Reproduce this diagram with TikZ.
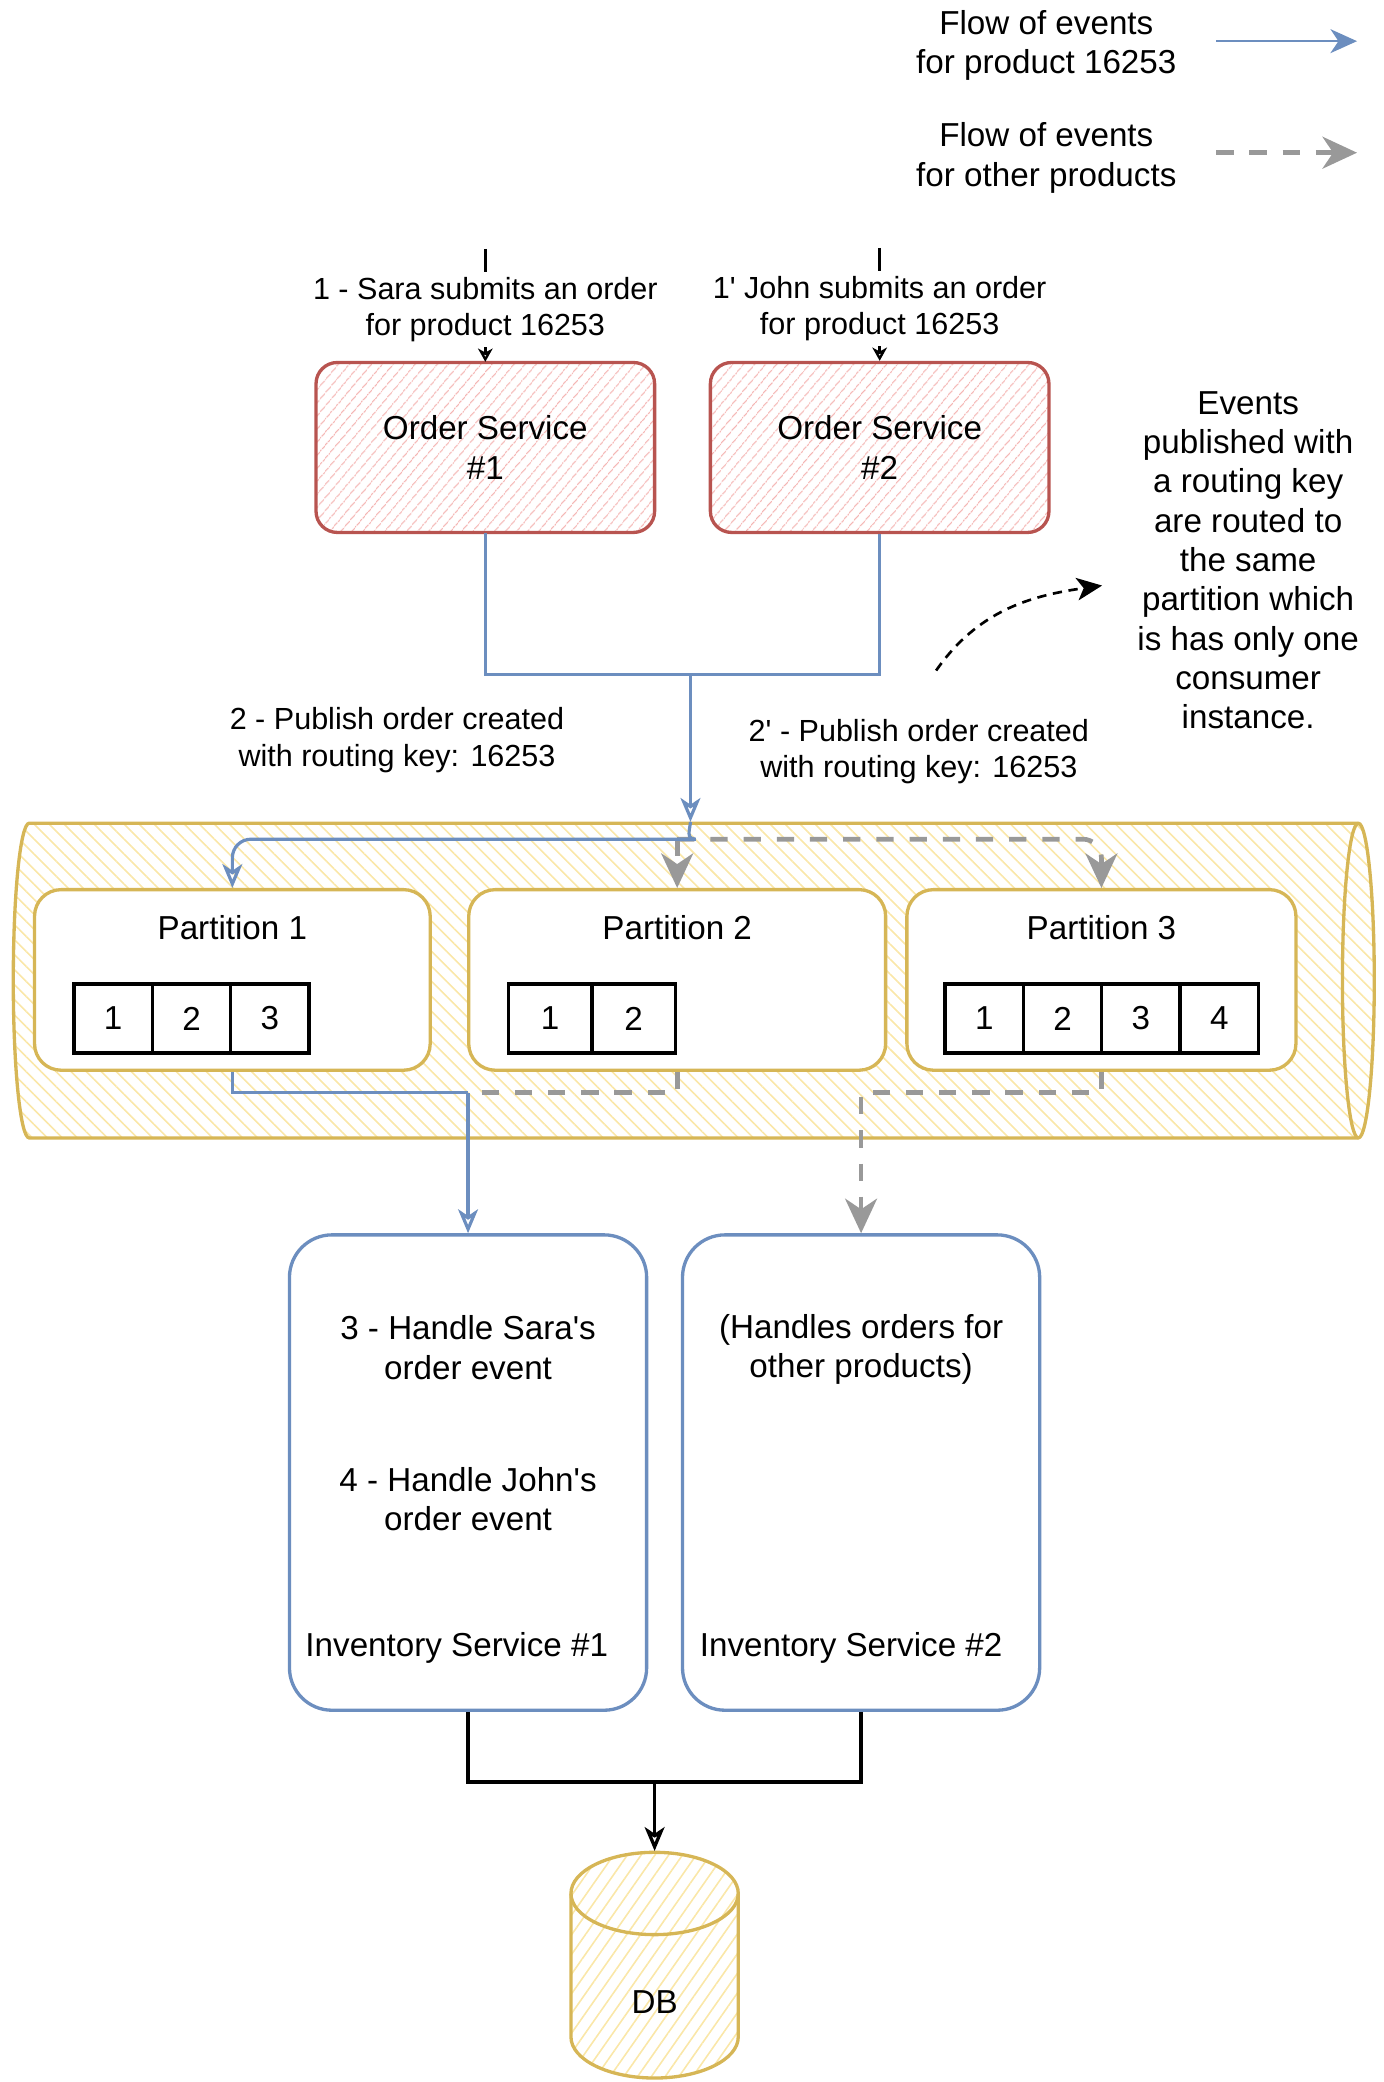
\documentclass[tikz,border=0pt]{standalone}
\usepackage{fontspec}
\setmainfont{Liberation Sans}
\usepackage{xcolor}
\usetikzlibrary{arrows.meta, positioning, patterns.meta}

\definecolor{redline}{HTML}{B85450}
\definecolor{redhatch}{HTML}{F4B5B3}
\definecolor{yellowline}{HTML}{D6B656}
\definecolor{yellowhatch}{HTML}{FAE7A8}
\definecolor{blueline}{HTML}{6C8EBF}
\definecolor{grayline}{HTML}{999999}
\newcommand{\aps}{\textquotesingle}

\begin{document}
\begin{tikzpicture}[
        x=1pt, y=1pt,
        txt/.style={font=\fontsize{25}{29.6}\selectfont, align=center, inner sep=0pt},
        lbl/.style={font=\fontsize{23}{27.5}\selectfont, align=center, inner sep=0pt},
        ordersvc/.style={txt, draw=redline, line width=2.5pt, rounded corners=16pt, minimum width=255pt, minimum height=128pt,
            pattern={Lines[angle=50, distance=6.5pt, line width=1pt]}, pattern color=redhatch},
        partbox/.style={draw=yellowline, line width=2.5pt, fill=white, rounded corners=20pt, minimum height=136pt},
        cell/.style={txt, draw, line width=2.5pt, fill=white, minimum width=59pt, minimum height=52pt, outer sep=0pt},
        invsvc/.style={draw=blueline, line width=2.5pt, fill=white, rounded corners=32pt, minimum width=269pt, minimum height=358pt},
        tank/.style={draw=yellowline, line width=2.5pt},
        bluepipe/.style={draw=blueline, line width=2.4pt},
        flow/.style={bluepipe, -{Stealth[open, length=18pt, width=15pt, inset=5pt]}},
        legflow/.style={bluepipe, line width=2pt, -{Stealth[length=20pt, width=18pt, inset=6pt]}},
        otherpipe/.style={draw=grayline, line width=3.5pt, dash pattern=on 13pt off 12pt},
        other/.style={otherpipe, -{Stealth[length=26pt, width=24pt, inset=8pt]}},
        feed/.style={black, line width=2.5pt, -{Stealth[open, length=10pt, width=11pt, inset=3pt]}},
        storepipe/.style={black, line width=2.5pt},
        store/.style={storepipe, -{Stealth[open, length=18pt, width=15pt, inset=5pt]}},
        hint/.style={black, line width=2pt, dash pattern=on 7pt off 5pt, -{Stealth[length=19pt, width=17pt, inset=5pt]}}
    ]
        \useasboundingbox (0,0) rectangle (1042,-1568);

        % Legend
        \node[txt] (legblue) at (788,-34) {Flow of events\\for product 16253};
        \node[txt] (leggray) at (788,-119) {Flow of events\\for other products};
        \coordinate (legbluea) at (916,-31);
        \coordinate (legblueb) at (1022,-31);
        \coordinate (leggraya) at (916,-115);
        \coordinate (leggrayb) at (1022,-115);

        % Order services
        \node[ordersvc] (os1) at (365.5,-337) {Order Service\\\#1};
        \node[ordersvc] (os2) at (662.5,-337) {Order Service\\\#2};
        \coordinate[above=85pt of os1.north] (in1);
        \coordinate[above=85pt of os2.north] (in2);

        \node[lbl] (pub1) at (299,-557.5) {2 - Publish order created\\with routing key: 16253};
        \node[lbl] (pub2) at (692,-566) {2\aps{} - Publish order created\\with routing key: 16253};
        \node[txt] (note) at (940,-422) {Events\\published with\\a routing key\\are routed to\\the same\\partition which\\is has only one\\consumer\\instance.};
        \coordinate (hinta) at (705,-505);
        \coordinate (hintb) at (830,-441);

        % Topic
        \draw[tank, pattern={Lines[angle=-45, distance=8pt, line width=1.2pt]}, pattern color=yellowhatch]
            (22,-620) -- (1023,-620) arc[start angle=90, end angle=-90, x radius=12pt, y radius=118.5pt]
            -- (22,-857) arc[start angle=270, end angle=90, x radius=12pt, y radius=118.5pt] -- cycle;
        \draw[tank] (1023,-620) arc[start angle=90, end angle=270, x radius=12pt, y radius=118.5pt];
        \coordinate (topicin) at (520,-619);
        \coordinate (hub) at (510,-632);

        % Partitions
        \node[partbox, minimum width=298pt] (p1) at (175,-738) {};
        \node[partbox, minimum width=314pt] (p2) at (510,-738) {};
        \node[partbox, minimum width=293pt] (p3) at (829.5,-738) {};
        \node[txt] (p1title) at ([yshift=-30pt]p1.north) {Partition 1};
        \node[txt] (p2title) at ([yshift=-30pt]p2.north) {Partition 2};
        \node[txt] (p3title) at ([yshift=-30pt]p3.north) {Partition 3};

        \node[cell, right=31pt of p1.west, yshift=-29pt] (c11) {1};
        \node[cell, right=0pt of c11] (c12) {2};
        \node[cell, right=0pt of c12] (c13) {3};
        \node[cell, minimum width=63pt, right=31pt of p2.west, yshift=-29pt] (c21) {1};
        \node[cell, minimum width=63pt, right=0pt of c21] (c22) {2};
        \node[cell, right=30pt of p3.west, yshift=-29pt] (c31) {1};
        \node[cell, right=0pt of c31] (c32) {2};
        \node[cell, right=0pt of c32] (c33) {3};
        \node[cell, right=0pt of c33] (c34) {4};

        % Inventory services
        \node[invsvc] (is1) at (352.5,-1109) {};
        \node[invsvc] (is2) at (648.5,-1109) {};
        \node[txt] (is1a) at (352.5,-1015) {3 - Handle Sara\aps s\\order event};
        \node[txt] (is1b) at (352.5,-1129) {4 - Handle John\aps s\\order event};
        \node[txt] (is1name) at (344,-1241) {Inventory Service \#1};
        \node[txt] (is2a) at (648.5,-1016.5) {(Handles orders for\\other products)};
        \node[txt] (is2name) at (641,-1241) {Inventory Service \#2};
        \coordinate (join1) at (is1.north |- 0,-823);
        \coordinate (join2) at (is2.north |- 0,-823);

        % Database
        \draw[tank, pattern={Lines[angle=55, distance=8.5pt, line width=1.2pt]}, pattern color=yellowhatch]
            (430,-1426) arc[start angle=180, end angle=0, x radius=63pt, y radius=31pt]
            -- (556,-1534) arc[start angle=0, end angle=-180, x radius=63pt, y radius=31pt] -- cycle;
        \draw[tank] (430,-1426) arc[start angle=180, end angle=360, x radius=63pt, y radius=31pt];
        \node[txt] (db) at (493,-1508) {DB};
        \coordinate (dbtop) at (493,-1394);
        \coordinate (merge2) at (493,-1342);
        \coordinate (merge1) at (520,-508);

        % Arrows
        \draw[legflow] (legbluea) -- (legblueb);
        \draw[other] (leggraya) -- (leggrayb);
        \draw[feed] (in1) -- node[lbl, fill=white, inner xsep=1pt, inner ysep=4pt, yshift=-3pt] {1 - Sara submits an order\\for product 16253} (os1.north);
        \draw[feed] (in2) -- node[lbl, fill=white, inner xsep=1pt, inner ysep=4pt, yshift=-3pt] {1\aps{} John submits an order\\for product 16253} (os2.north);
        \draw[bluepipe] (os1.south) |- (merge1);
        \draw[bluepipe] (os2.south) |- (merge1);
        \draw[flow] (merge1) -- (topicin);
        \draw[hint] (hinta) to[out=55, in=188] (hintb);

        \draw[other] (hub) -- (p2.north);
        \draw[other, rounded corners=14pt] (hub) -| (p3.north);
        \draw[flow, rounded corners=14pt] (topicin) to[out=-95, in=0] (hub) -| (p1.north);

        \draw[otherpipe] (p2.south) |- (join1);
        \draw[other] (p3.south) |- (join2) -- (is2.north);
        \draw[bluepipe] (p1.south) |- (join1);
        \draw[flow] (join1) -- (is1.north);

        \draw[storepipe] (is1.south) |- (merge2);
        \draw[storepipe] (is2.south) |- (merge2);
        \draw[store] (merge2) -- (dbtop);
    \end{tikzpicture}
\end{document}
